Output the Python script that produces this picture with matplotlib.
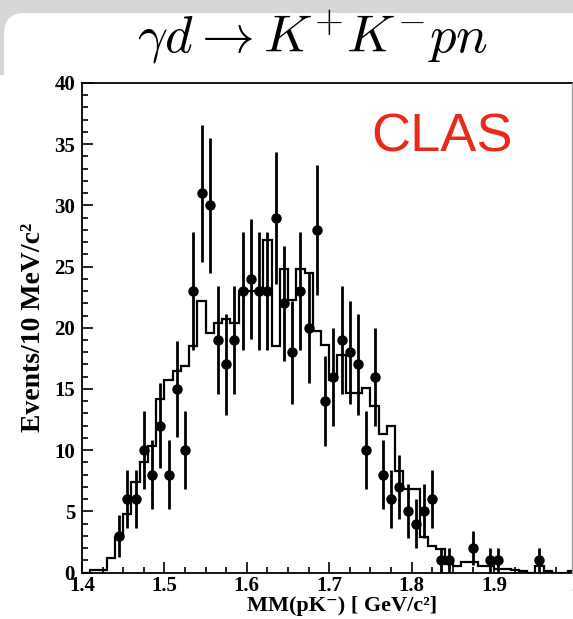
import numpy as np
import matplotlib
matplotlib.use("Agg")
import matplotlib.pyplot as plt
from matplotlib.patches import FancyBboxPatch, Rectangle
from matplotlib.lines import Line2D
from matplotlib.ticker import MultipleLocator, FuncFormatter

plt.rcParams['mathtext.fontset'] = 'cm'

# simulated spectrum, 10 MeV bins starting at 1.40 GeV
sim_start = 1.40
sim_width = 0.01
sim_counts = [0.0, 0.2, 0.2, 1.2, 2.9, 4.8, 7.4, 9.0, 10.3, 14.2,
              15.7, 16.5, 16.9, 18.5, 22.2, 19.6, 20.4, 20.7, 20.4, 23.0,
              23.0, 23.0, 27.2, 18.5, 24.8, 22.3, 24.8, 24.5, 19.7, 18.6,
              15.7, 17.8, 14.7, 14.7, 15.1, 13.6, 11.3, 12.0, 8.3, 6.8,
              6.8, 2.9, 2.2, 1.9, 0.7, 0.5, 0.85, 0.85, 0.5, 0.5,
              0.3, 0.3, 0.2, 0.1, 0.0, 0.5, 0.1, 0.0, 0.0, 0.15]

# measured data points
mass = [1.445, 1.455, 1.465, 1.475, 1.485, 1.495, 1.505, 1.515, 1.525, 1.535,
        1.545, 1.555, 1.565, 1.575, 1.585, 1.595, 1.605, 1.615, 1.625, 1.635,
        1.645, 1.655, 1.665, 1.675, 1.685, 1.695, 1.705, 1.715, 1.725, 1.735,
        1.745, 1.755, 1.765, 1.775, 1.785, 1.795, 1.805, 1.815, 1.825, 1.835,
        1.845, 1.875, 1.895, 1.905, 1.955]
events = [3, 6, 6, 10, 8, 12, 8, 15, 10, 23,
          31, 30, 19, 17, 19, 23, 24, 23, 23, 29,
          22, 18, 23, 20, 28, 14, 16, 19, 18, 17,
          10, 16, 8, 6, 7, 5, 4, 5, 6, 1,
          1, 2, 1, 1, 1]
errors = [1.7, 2.4, 2.4, 3.2, 2.8, 3.5, 2.8, 3.9, 3.2, 4.8,
          5.6, 5.5, 4.4, 4.1, 4.4, 4.8, 4.9, 4.8, 4.8, 5.4,
          4.7, 4.2, 4.8, 4.5, 5.3, 3.7, 4.0, 4.4, 4.2, 4.1,
          3.2, 4.0, 2.8, 2.4, 2.6, 2.2, 2.0, 2.2, 2.4, 1.0,
          1.0, 1.4, 1.0, 1.0, 1.0]

W, H = 573, 619
fig = plt.figure(figsize=(W / 100, H / 100), dpi=100)

# screenshot frame: grey band on top, white page with rounded corner
fig.patches.append(Rectangle((0, 0), 1, 1, transform=fig.transFigure,
                             facecolor='#d6d6d6', edgecolor='none', zorder=-10))
fig.patches.append(FancyBboxPatch((4 / W, -0.1), 1.2, 1.1 - 13 / H,
                                  boxstyle="round,pad=0,rounding_size=0.035",
                                  transform=fig.transFigure, facecolor='white',
                                  edgecolor='none', zorder=-9))
fig.patches.append(Rectangle((0, 0), 0.05, 1 - 75 / H, transform=fig.transFigure,
                             facecolor='white', edgecolor='none', zorder=-8))

ax = fig.add_axes([82 / W, (H - 572.5) / H, 494.5 / W, 489.5 / H])
ax.set_facecolor('none')

edges = sim_start + sim_width * np.arange(len(sim_counts) + 1)
ax.stairs(sim_counts, edges, color='black', lw=1.6, baseline=0)
ax.errorbar(mass, events, yerr=errors, fmt='o', color='black', ms=6.5,
            elinewidth=2.0, capsize=0)

ax.set_xlim(1.4, 2.0)
ax.set_ylim(0, 40)
ax.xaxis.set_major_locator(MultipleLocator(0.1))
ax.xaxis.set_minor_locator(MultipleLocator(0.025))
ax.yaxis.set_major_locator(MultipleLocator(5))
ax.yaxis.set_minor_locator(MultipleLocator(1))
ax.tick_params(which='both', direction='in', top=False, right=False, width=1.2)
ax.tick_params(which='major', length=8)
ax.tick_params(which='minor', length=4.5)
ax.tick_params(axis='y', pad=5)
ax.tick_params(axis='x', pad=2.5)
ax.xaxis.set_major_formatter(FuncFormatter(lambda v, p: '%g' % round(v, 2)))
for lab in ax.get_xticklabels() + ax.get_yticklabels():
    lab.set_fontfamily('Liberation Serif')
    lab.set_fontweight('bold')
    lab.set_fontsize(15)
for s in ax.spines.values():
    s.set_linewidth(1.3)
ax.spines['right'].set_visible(False)
# edge of the cropped plot image
fig.add_artist(Line2D([572 / W, 572 / W], [(H - 572.5) / H, (H - 83) / H],
                      color='#9a9a9a', lw=1.0))

label_font = ['Liberation Serif', 'DejaVu Serif']
ax.set_ylabel('Events/10 MeV/c²', family=label_font,
              fontweight='bold', fontsize=20)
ax.yaxis.set_label_coords(-0.073, 0.5)
ax.set_xlabel('MM(pK⁻) [ GeV/c²]', family=label_font,
              fontweight='bold', fontsize=16)
ax.xaxis.set_label_coords(0.526, -0.048)

ax.text(0.728, 0.861, 'CLAS', transform=ax.transAxes, color='#e8291c',
        fontsize=39, family='Liberation Sans', ha='center', va='baseline')

fig.text(313 / W, 1 - 53 / H, r'$\gamma d \rightarrow K^{+}K^{-}pn$',
         fontsize=38, ha='center', va='baseline')

fig.savefig('out.png', dpi=100)
